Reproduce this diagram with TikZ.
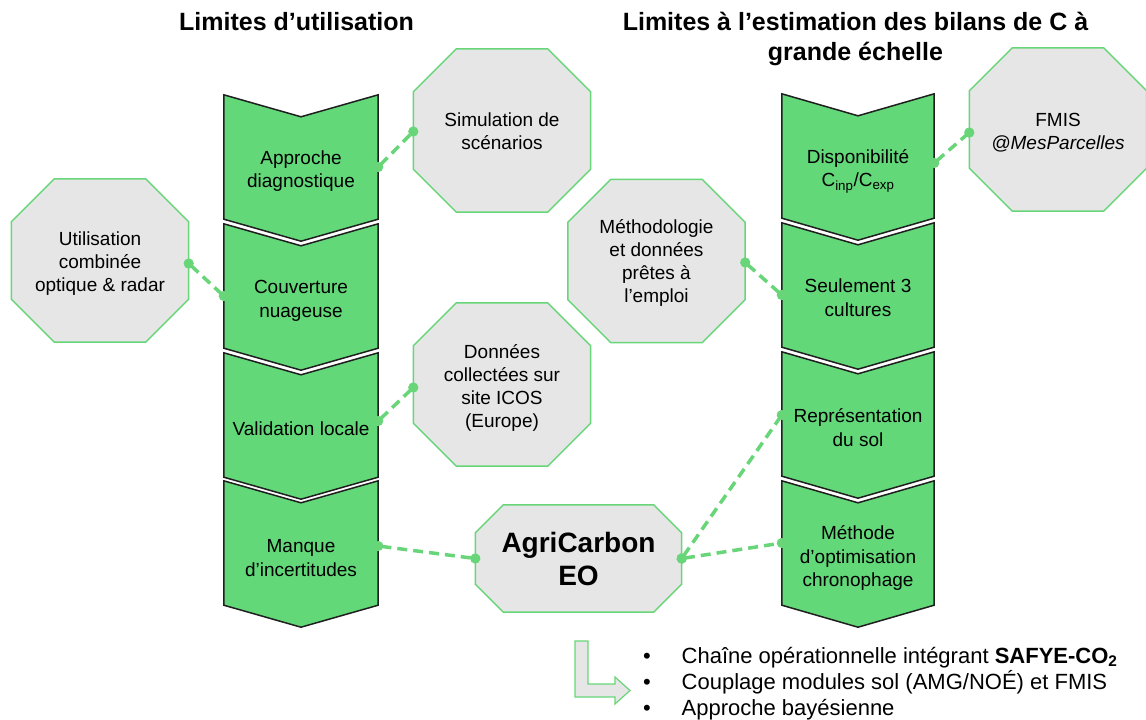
\documentclass[tikz,border=0pt]{standalone}
\usepackage{fontspec}
\setmainfont{Liberation Sans}
\usetikzlibrary{calc,arrows.meta,backgrounds}
\definecolor{chevgreen}{RGB}{99,216,121}
\definecolor{octgray}{RGB}{230,230,230}
\definecolor{linkgreen}{RGB}{104,214,120}
% #1 node, #2 vertical offset of the shape relative to the node (negative = up)
\newcommand\drawchev[2]{%
  \path[chevshape] ($(#1.north west)+(0,-22+#2)$) -- ($(#1.north)+(0,#2)$) -- ($(#1.north east)+(0,-22+#2)$)
    -- ($(#1.south east)+(0,#2)$) -- ($(#1.south)+(0,22+#2)$) -- ($(#1.south west)+(0,#2)$) -- cycle;}
% #1 node, #2 chamfer, #3 vertical offset
\newcommand\drawocta[3]{%
  \path[octshape] ($(#1.north west)+(#2,#3)$) -- ($(#1.north east)+(-#2,#3)$)
    -- ($(#1.north east)+(0,#2+#3)$) -- ($(#1.south east)+(0,-#2+#3)$)
    -- ($(#1.south east)+(-#2,#3)$) -- ($(#1.south west)+(#2,#3)$)
    -- ($(#1.south west)+(0,-#2+#3)$) -- ($(#1.north west)+(0,#2+#3)$) -- cycle;}
\begin{document}
\begin{tikzpicture}[x=1pt,y=-1pt,
  chevtext/.style={inner sep=0pt, minimum height=102pt, align=center,
    font=\fontsize{19}{23.5}\selectfont},
  octtext/.style={inner sep=0pt, minimum width=177pt, minimum height=163pt,
    align=center, font=\fontsize{19}{23}\selectfont},
  link/.style={draw=linkgreen, line width=3.5pt, dash pattern=on 10pt off 6pt,
    {Circle[length=10pt]}-{Circle[length=10pt]}, shorten <=-5pt, shorten >=-5pt},
  chevshape/.style={fill=chevgreen, draw=black!88, line width=1.5pt, line join=miter},
  octshape/.style={fill=octgray, draw=linkgreen, line width=1.5pt, line join=miter},
  title/.style={font=\fontsize{25}{30}\selectfont\bfseries, align=center, inner sep=0pt},
  bulletline/.style={anchor=base west, inner sep=0pt, font=\fontsize{22}{26}\selectfont}
]
\useasboundingbox (0,0) rectangle (1146,720);

% titles
\node[title] (t1) at (296.5,22) {Limites d’utilisation};
\node[title] (t2) at (855.5,39) {Limites à l’estimation des bilans de C à\\grande échelle};

% left column (text centres; shapes drawn with offsets below)
\node[chevtext, minimum width=154pt] (c1) at (301,171) {Approche\\diagnostique};
\node[chevtext, minimum width=154pt] (c2) at (301,301) {Couverture\\nuageuse};
\node[chevtext, minimum width=154pt] (c3) at (301,429) {Validation locale};
\node[chevtext, minimum width=154pt] (c4) at (301,558) {Manque\\d’incertitudes};

% right column
\node[chevtext, minimum width=152pt] (d1) at (858,171) {Disponibilité\\C\textsubscript{inp}/C\textsubscript{exp}};
\node[chevtext, minimum width=152pt] (d2) at (858,297.5) {Seulement 3\\cultures};
\node[chevtext, minimum width=152pt] (d3) at (858,427.5) {Représentation\\du sol};
\node[chevtext, minimum width=152pt] (d4) at (858,558) {Méthode\\d’optimisation\\chronophage};

% octagons
\node[octtext] (sim) at (502,131.5) {Simulation de\\scénarios};
\node[octtext] (util) at (100,263.5) {Utilisation\\combinée\\optique \& radar};
\node[octtext] (donn) at (502,387.5) {Données\\collectées sur\\site ICOS\\(Europe)};
\node[octtext] (fmis) at (1058,132.5) {FMIS\\\textit{@MesParcelles}};
\node[octtext] (meth) at (656.5,262.5) {Méthodologie\\et données\\prêtes à\\l’emploi};
\node[octtext, minimum width=206pt, minimum height=107pt,
  font=\fontsize{28}{33}\selectfont\bfseries] (agri) at (578.5,558.5) {AgriCarbon\\EO};

\begin{pgfonlayer}{background}
  \drawchev{c1}{-3}\drawchev{c2}{-4}\drawchev{c3}{-3}\drawchev{c4}{-4}
  \drawchev{d1}{-4}\drawchev{d2}{-1.5}\drawchev{d3}{-2.5}\drawchev{d4}{-4}
  \drawocta{sim}{43}{-1}\drawocta{util}{43}{-3}\drawocta{donn}{43}{-3}
  \drawocta{fmis}{43}{-3}\drawocta{meth}{43}{-1.5}\drawocta{agri}{28}{0}
\end{pgfonlayer}

% connectors
\draw[link] ($(c1.east)+(0,-4)$) -- (sim.west);
\draw[link] (util.east) -- ($(c2.west)+(0,-5)$);
\draw[link] ($(c3.east)+(0,-8)$) -- (donn.west);
\draw[link] ($(c4.east)+(0,-12)$) -- (agri.west);
\draw[link] ($(d1.east)+(0,-8)$) -- (fmis.west);
\draw[link] (meth.east) -- ($(d2.west)+(0,-2.5)$);
\draw[link] (agri.east) -- ($(d3.west)+(0,-12.5)$);
\draw[link] (agri.east) -- ($(d4.west)+(0,-15)$);

% bent arrow
\path[octshape, line width=1.2pt] (575,641) -- (588,641) -- (588,684) -- (615,684)
  -- (615,677) -- (630,690.5) -- (615,704) -- (615,697) -- (575,697) -- cycle;

% bullet list
\node[bulletline] (b1) at (643,663) {\makebox[38.5pt][l]{•}Chaîne opérationnelle intégrant \textbf{SAFYE-CO\textsubscript{2}}};
\node[bulletline] (b2) at (643,689) {\makebox[38.5pt][l]{•}Couplage modules sol (AMG/NOÉ) et FMIS};
\node[bulletline] (b3) at (643,715) {\makebox[38.5pt][l]{•}Approche bayésienne};
\end{tikzpicture}
\end{document}
